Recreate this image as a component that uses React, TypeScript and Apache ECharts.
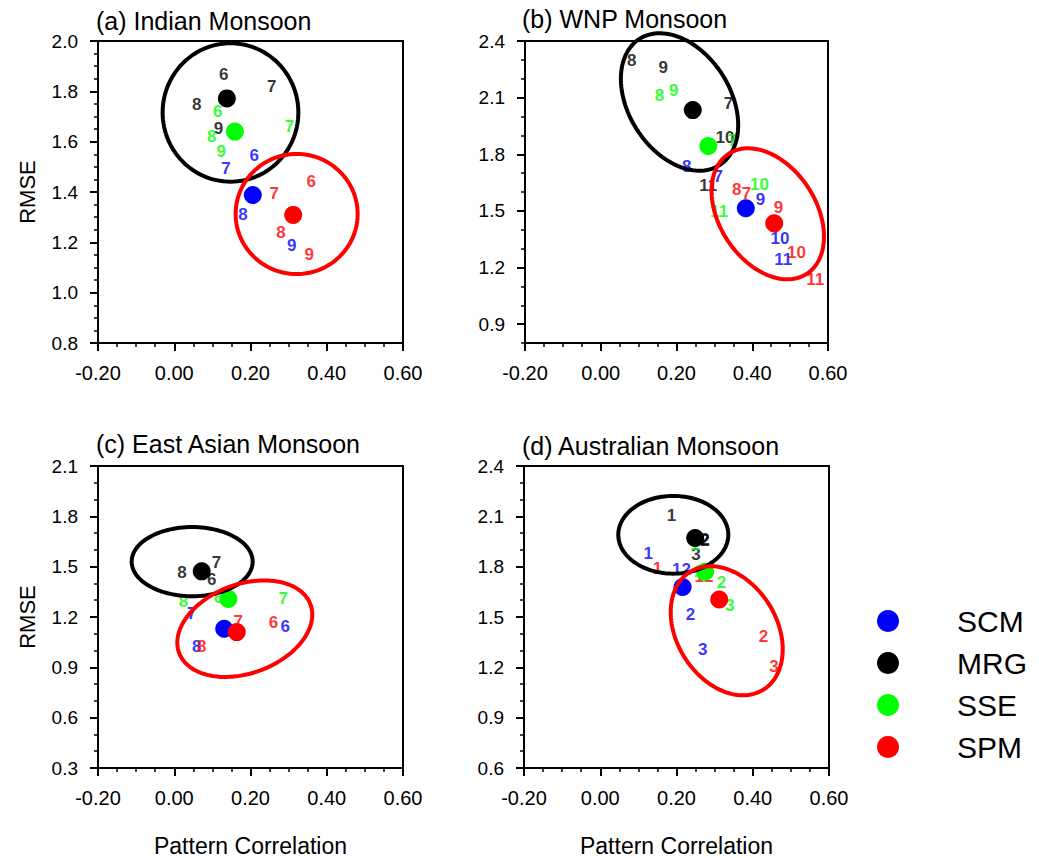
import React, { useEffect, useRef } from "react";
import * as echarts from "echarts";

const FONT = "'Liberation Sans', Arial, Helvetica, sans-serif";

// Groups (legend order) and colours
const groupNames = ["SCM", "MRG", "SSE", "SPM"];
const groupColors = ["#0000ff", "#000000", "#00ff00", "#ff0000"];

const panelTitles = [
  "(a) Indian Monsoon",
  "(b) WNP Monsoon",
  "(c) East Asian Monsoon",
  "(d) Australian Monsoon",
];

// x axis: pattern correlation
const xRange = [-0.2, 0.6];
const xStep = 0.2;

// y axis ranges (RMSE) per panel
const yRangeA = [0.8, 2.0];
const yRangeB = [0.8, 2.4];
const yRangeC = [0.3, 2.1];
const yRangeD = [0.6, 2.4];
const yTickLabelsB = [0.9, 1.2, 1.5, 1.8, 2.1, 2.4];

// ---------- (a) Indian Monsoon ----------
// means in order SCM, MRG, SSE, SPM : [pattern correlation, RMSE]
const indianMeans = [[0.206, 1.388], [0.138, 1.772], [0.159, 1.64], [0.312, 1.309]];
const indianSCM = [["6", 0.21, 1.547], ["7", 0.136, 1.494], ["8", 0.18, 1.309], ["9", 0.308, 1.189]];
const indianMRG = [["6", 0.13, 1.865], ["7", 0.256, 1.818], ["8", 0.059, 1.746], ["9", 0.116, 1.653]];
const indianSSE = [["6", 0.114, 1.719], ["7", 0.302, 1.659], ["8", 0.098, 1.62], ["9", 0.123, 1.56]];
const indianSPM = [["6", 0.359, 1.441], ["7", 0.262, 1.395], ["8", 0.28, 1.238], ["9", 0.354, 1.15]];
// ellipses: [cx, cy, ux, uy, vx, vy] (centre and two semi-axis vectors, data units)
const indianEllMRG = [0.1475, 1.716, 0.178, 0, 0, 0.275];
const indianEllSPM = [0.321, 1.3126, 0.16, 0, 0, 0.2385];

// ---------- (b) WNP Monsoon ----------
const wnpMeans = [[0.383, 1.514], [0.243, 2.034], [0.284, 1.844], [0.458, 1.434]];
const wnpSCM = [["7", 0.31, 1.681], ["8", 0.227, 1.734], ["9", 0.422, 1.561], ["10", 0.473, 1.355], ["11", 0.482, 1.24]];
const wnpMRG = [["7", 0.337, 2.07], ["8", 0.082, 2.299], ["9", 0.165, 2.259], ["10", 0.328, 1.89], ["11", 0.284, 1.637]];
const wnpSSE = [["7", 0.348, 1.875], ["8", 0.155, 2.109], ["9", 0.193, 2.137], ["10", 0.419, 1.642], ["11", 0.313, 1.496]];
const wnpSPM = [["7", 0.385, 1.593], ["8", 0.359, 1.614], ["9", 0.469, 1.519], ["10", 0.517, 1.278], ["11", 0.566, 1.134]];
const wnpEllMRG = [0.208, 2.077, 0.1057, -0.3343, -0.1132, -0.1443];
const wnpEllSPM = [0.441, 1.4845, 0.1032, -0.3179, -0.1067, -0.1393];

// ---------- (c) East Asian Monsoon ----------
const eastAsianMeans = [[0.131, 1.13], [0.072, 1.472], [0.142, 1.308], [0.164, 1.11]];
const eastAsianSCM = [["6", 0.291, 1.145], ["7", 0.046, 1.221], ["8", 0.059, 1.027]];
const eastAsianMRG = [["6", 0.098, 1.423], ["7", 0.111, 1.526], ["8", 0.02, 1.463]];
const eastAsianSSE = [["6", 0.116, 1.314], ["7", 0.286, 1.308], ["8", 0.024, 1.294]];
const eastAsianSPM = [["6", 0.26, 1.166], ["7", 0.168, 1.175], ["8", 0.072, 1.027]];
const eastAsianEllMRG = [0.047, 1.53, 0.1587, 0, 0, 0.2061];
const eastAsianEllSPM = [0.185, 1.1305, 0.1723, 0.1444, 0.0407, -0.2489];

// ---------- (d) Australian Monsoon ----------
const australianMeans = [[0.216, 1.679], [0.249, 1.971], [0.275, 1.77], [0.312, 1.604]];
const australianSCM = [["12", 0.213, 1.782], ["1", 0.126, 1.881], ["2", 0.237, 1.515], ["3", 0.269, 1.307]];
const australianMRG = [["12", 0.262, 1.962], ["1", 0.187, 2.103], ["2", 0.275, 1.955], ["3", 0.251, 1.871]];
const australianSSE = [["12", 0.27, 1.77], ["1", 0.248, 1.931], ["2", 0.318, 1.707], ["3", 0.34, 1.568]];
const australianSPM = [["12", 0.272, 1.74], ["1", 0.15, 1.792], ["2", 0.428, 1.386], ["3", 0.456, 1.205]];
const australianEllMRG = [0.1916, 1.99, 0.1443, 0, 0, 0.2317];
const australianEllSPM = [0.3317, 1.418, 0.0957, -0.3517, -0.1115, -0.1556];

const panels = [
  { means: indianMeans, labels: [indianSCM, indianMRG, indianSSE, indianSPM], ells: [indianEllMRG, indianEllSPM] },
  { means: wnpMeans, labels: [wnpSCM, wnpMRG, wnpSSE, wnpSPM], ells: [wnpEllMRG, wnpEllSPM] },
  { means: eastAsianMeans, labels: [eastAsianSCM, eastAsianMRG, eastAsianSSE, eastAsianSPM], ells: [eastAsianEllMRG, eastAsianEllSPM] },
  { means: australianMeans, labels: [australianSCM, australianMRG, australianSSE, australianSPM], ells: [australianEllMRG, australianEllSPM] },
];
const ellipseColors = ["#000000", "#ff0000"];

const grids = [
  { left: 98, top: 41, width: 305, height: 302 },
  { left: 525, top: 41, width: 303, height: 302 },
  { left: 98, top: 466, width: 305, height: 303 },
  { left: 524, top: 466, width: 305, height: 303 },
];

const titlePos = [
  { left: 96, top: 8 },
  { left: 522, top: 6 },
  { left: 96, top: 431 },
  { left: 522, top: 433 },
];

function fmt(v: number, d: number) {
  const x = Math.abs(v) < 1e-9 ? 0 : v;
  return x.toFixed(d);
}

const lineBlack = { color: "#000", width: 2 };

function xAxisFor(i: number) {
  const named = i >= 2;
  return {
    type: "value",
    gridIndex: i,
    position: "bottom",
    min: xRange[0],
    max: xRange[1],
    interval: xStep,
    axisLine: { show: true, onZero: false, lineStyle: lineBlack },
    axisTick: { show: true, inside: false, length: 8, lineStyle: lineBlack },
    minorTick: { show: true, splitNumber: 4, length: 4, lineStyle: { color: "#000", width: 1.5 } },
    splitLine: { show: false },
    minorSplitLine: { show: false },
    axisLabel: { fontSize: 20, color: "#000", margin: 20, fontFamily: FONT, formatter: (v: number) => fmt(v, 2) },
    name: named ? "Pattern Correlation" : "",
    nameLocation: "middle",
    nameGap: 66,
    nameTextStyle: { fontSize: 23, color: "#000", fontFamily: FONT },
  };
}

function yAxisStd(i: number, range: number[], step: number, split: number, named: boolean) {
  return {
    type: "value",
    gridIndex: i,
    position: "left",
    min: range[0],
    max: range[1],
    interval: step,
    axisLine: { show: true, onZero: false, lineStyle: lineBlack },
    axisTick: { show: true, inside: false, length: 8, lineStyle: lineBlack },
    minorTick: { show: true, splitNumber: split, length: 4, lineStyle: { color: "#000", width: 1.5 } },
    splitLine: { show: false },
    minorSplitLine: { show: false },
    axisLabel: { fontSize: 19, color: "#000", margin: 20, fontFamily: FONT, formatter: (v: number) => fmt(v, 1) },
    name: named ? "RMSE" : "",
    nameLocation: "middle",
    nameGap: 60,
    nameTextStyle: { fontSize: 22, color: "#000", fontFamily: FONT },
  };
}

const yAxes = [
  yAxisStd(0, yRangeA, 0.2, 4, true),
  // (b) data axis carrying the 0.1 minor ticks
  {
    type: "value",
    gridIndex: 1,
    position: "left",
    offset: 0,
    min: yRangeB[0],
    max: yRangeB[1],
    interval: 0.1,
    axisLine: { show: true, onZero: false, lineStyle: lineBlack },
    axisTick: { show: true, inside: false, length: 4, lineStyle: { color: "#000", width: 1.5 } },
    splitLine: { show: false },
    axisLabel: { show: false },
  },
  // (b) labelled major ticks
  {
    type: "value",
    gridIndex: 1,
    position: "left",
    offset: 0,
    min: yRangeB[0],
    max: yRangeB[1],
    axisLine: { show: false, onZero: false },
    axisTick: { show: true, inside: false, length: 8, lineStyle: lineBlack, customValues: yTickLabelsB },
    splitLine: { show: false },
    axisLabel: {
      fontSize: 19, color: "#000", margin: 20, fontFamily: FONT,
      customValues: yTickLabelsB,
      formatter: (v: number) => fmt(v, 1),
    },
  },
  yAxisStd(2, yRangeC, 0.3, 3, true),
  yAxisStd(3, yRangeD, 0.3, 3, false),
];
const yIndexOf = [0, 1, 3, 4];

function buildSeries() {
  const series: any[] = [];
  panels.forEach((p, pi) => {
    // month-number labels
    p.labels.forEach((arr, gi) => {
      series.push({
        type: "scatter",
        name: groupNames[gi] + " months",
        xAxisIndex: pi,
        yAxisIndex: yIndexOf[pi],
        z: 2,
        silent: true,
        symbol: "circle",
        symbolSize: 1,
        itemStyle: { color: "rgba(0,0,0,0)" },
        data: arr.map((d) => [d[1], d[2], d[0]]),
        label: {
          show: true,
          position: "inside",
          formatter: (q: any) => q.value[2],
          color: groupColors[gi],
          fontSize: 17,
          fontWeight: "bold",
          fontFamily: FONT,
        },
      });
    });
    // group mean dots
    p.means.forEach((m, gi) => {
      series.push({
        type: "scatter",
        name: groupNames[gi],
        xAxisIndex: pi,
        yAxisIndex: yIndexOf[pi],
        z: 3,
        symbol: "circle",
        symbolSize: 18,
        itemStyle: { color: groupColors[gi], opacity: 1 },
        data: [m],
      });
    });
    // ellipses
    p.ells.forEach((e, ei) => {
      const color = ellipseColors[ei];
      series.push({
        type: "custom",
        name: "ellipse",
        xAxisIndex: pi,
        yAxisIndex: yIndexOf[pi],
        z: 4,
        silent: true,
        encode: { x: 0, y: 1 },
        data: [e],
        renderItem: (params: any, api: any) => {
          const cx = api.value(0), cy = api.value(1);
          const ux = api.value(2), uy = api.value(3);
          const vx = api.value(4), vy = api.value(5);
          const pts: number[][] = [];
          const n = 120;
          for (let k = 0; k < n; k++) {
            const t = (k / n) * Math.PI * 2;
            pts.push(api.coord([cx + ux * Math.cos(t) + vx * Math.sin(t), cy + uy * Math.cos(t) + vy * Math.sin(t)]));
          }
          return {
            type: "polygon",
            shape: { points: pts },
            style: { fill: "none", stroke: color, lineWidth: 4 },
          };
        },
      });
    });
  });
  return series;
}

export default function App() {
  const ref = useRef<HTMLDivElement>(null);
  useEffect(() => {
    if (!ref.current) return;
    const chart = echarts.init(ref.current, null, { renderer: "svg" });
    const option: any = {
      animation: false,
      backgroundColor: "#ffffff",
      textStyle: { fontFamily: FONT },
      title: panelTitles.map((t, i) => ({
        text: t,
        left: titlePos[i].left,
        top: titlePos[i].top,
        padding: 0,
        textStyle: { fontSize: 25, fontWeight: "normal", color: "#000", fontFamily: FONT },
      })),
      grid: grids.map((g) => ({ ...g, show: true, borderColor: "#000", borderWidth: 2, backgroundColor: "transparent", containLabel: false })),
      xAxis: [0, 1, 2, 3].map((i) => xAxisFor(i)),
      yAxis: yAxes,
      legend: {
        data: groupNames,
        orient: "vertical",
        left: 877,
        top: 606,
        padding: 0,
        itemWidth: 22,
        itemHeight: 22,
        itemGap: 12,
        icon: "circle",
        selectedMode: false,
        textStyle: { fontSize: 30, color: "#000", fontFamily: FONT, padding: [0, 0, 0, 53] },
      },
      series: buildSeries(),
    };
    chart.setOption(option);
    return () => chart.dispose();
  }, []);
  return (
    <div
      ref={ref}
      style={{ position: "absolute", left: 0, top: 0, width: 1039, height: 858, background: "#fff" }}
    />
  );
}
